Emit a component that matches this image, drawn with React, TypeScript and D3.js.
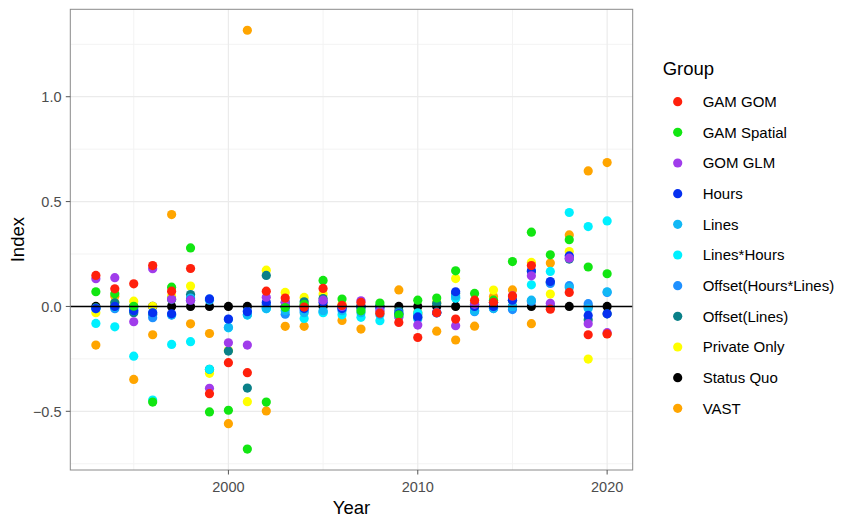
import React from "react";
import * as d3 from "d3";

const years = [1993,1994,1995,1996,1997,1998,1999,2000,2001,2002,2003,2004,2005,2006,2007,2008,2009,2010,2011,2012,2013,2014,2015,2016,2017,2018,2019,2020];

const groups = ["GAM GOM","GAM Spatial","GOM GLM","Hours","Lines","Lines*Hours","Offset(Hours*Lines)","Offset(Lines)","Private Only","Status Quo","VAST"];
const groupColors = ["#FF200C","#12E612","#A03CEB","#0630F0","#12B8F5","#00F0FF","#1E90FF","#0A8088","#FFFF00","#000000","#FFA500"];

const gamGom = [0.148,0.084,0.108,0.195,0.073,0.181,-0.416,-0.268,-0.316,0.073,0.04,-0.003,0.086,0.005,0.019,-0.032,-0.076,-0.148,-0.03,-0.06,0.03,0.02,0.05,0.195,-0.013,0.067,-0.135,-0.131];
const gamSpatial = [0.07,0.06,0.001,-0.456,0.092,0.279,-0.503,-0.495,-0.68,-0.456,-0.005,0.01,0.124,0.035,-0.021,0.016,-0.04,0.03,0.04,0.17,0.062,0.03,0.214,0.354,0.246,0.318,0.188,0.156];
const gomGlm = [0.132,0.137,-0.073,0.18,0.035,0.03,-0.39,-0.173,-0.184,0.044,0.02,0.0,0.03,0.0,0.027,-0.02,-0.05,-0.089,-0.03,-0.092,0.01,0.02,0.05,0.146,0.015,0.23,-0.082,-0.125];
const hours = [-0.01,0.0,-0.02,-0.03,-0.035,0.03,0.035,-0.06,-0.025,0.02,0.0,-0.01,0.02,-0.01,0.0,0.0,-0.035,-0.05,-0.03,0.07,0.0,0.0,0.03,0.17,0.119,0.241,-0.043,-0.035];
const lines = [-0.01,-0.005,-0.01,-0.03,-0.04,0.04,0.03,-0.1,-0.04,-0.01,-0.02,-0.03,-0.02,-0.02,-0.03,-0.04,-0.04,-0.06,-0.03,0.05,-0.02,-0.01,0.0,0.03,0.0,0.09,-0.01,0.07];
const linesHours = [-0.081,-0.097,-0.237,-0.446,-0.181,-0.168,-0.3,-0.102,-0.041,-0.011,0.0,-0.057,-0.03,-0.04,-0.052,-0.068,-0.05,-0.03,-0.03,0.04,-0.02,0.0,0.0,0.103,0.167,0.448,0.381,0.408];
const offsetHoursLines = [-0.01,-0.011,-0.02,-0.054,-0.041,0.035,0.036,-0.062,-0.022,0.01,-0.037,-0.02,-0.026,-0.01,-0.01,-0.01,-0.03,-0.04,-0.03,0.04,-0.025,-0.01,-0.015,0.024,0.11,0.099,0.013,0.067];
const offsetLines = [-0.006,0.018,-0.03,-0.038,0.033,0.057,-0.3,-0.213,-0.389,0.148,0.02,0.022,0.038,0.0,0.0,0.0,-0.02,-0.052,0.015,0.062,0.01,0.02,0.03,0.167,0.115,0.226,-0.063,-0.035];
const privateOnly = [-0.03,0.02,0.025,0.001,0.05,0.097,-0.319,-0.21,-0.454,0.173,0.067,0.043,0.059,0.01,0.0,0.0,-0.04,-0.035,0.02,0.133,0.02,0.078,0.03,0.21,0.059,0.262,-0.251,-0.13];
const statusQuo = [0,0,0,0,0,0,0,0,0,0,0,0,0,0,0,0,0,0,0,0,0,0,0,0,0,0,0,0];
const vast = [-0.184,0.049,-0.348,-0.135,0.438,-0.083,-0.129,-0.559,1.317,-0.498,-0.095,-0.095,0.006,-0.067,-0.108,-0.025,0.079,-0.029,-0.118,-0.16,-0.094,0.048,0.079,-0.082,0.207,0.341,0.646,0.686];

const seriesValues = [gamGom,gamSpatial,gomGlm,hours,lines,linesHours,offsetHoursLines,offsetLines,privateOnly,statusQuo,vast];

const xMajor = [2000, 2010, 2020];
const xMinor = [1995, 2005, 2015];
const yMajor = [-0.5, 0, 0.5, 1.0];
const yMinor = [-0.75, -0.25, 0.25, 0.75, 1.25];

const W = 843, H = 519;
const PL = 70.3, PR = 632.7, PT = 9.3, PB = 470;
const FONT = "'Liberation Sans', Arial, Helvetica, sans-serif";

export default function App() {
  const allVals = seriesValues.flat();
  const ymin = d3.min(allVals)!, ymax = d3.max(allVals)!;
  const yr = ymax - ymin;
  const x0 = d3.min(years)!, x1 = d3.max(years)!;
  const xr = x1 - x0;
  const x = d3.scaleLinear().domain([x0 - 0.05 * xr, x1 + 0.05 * xr]).range([PL, PR]);
  const y = d3.scaleLinear().domain([ymin - 0.05 * yr, ymax + 0.05 * yr]).range([PB, PT]);

  // drawn from the last group to the first, so GAM GOM ends up on top
  const points: { g: number; yr: number; v: number }[] = [];
  for (let g = seriesValues.length - 1; g >= 0; g--) {
    seriesValues[g].forEach((v, i) => points.push({ g, yr: years[i], v }));
  }

  return (
    <svg width={W} height={H} style={{ position: "absolute", left: 0, top: 0 }} fontFamily={FONT}>
      <rect x={0} y={0} width={W} height={H} fill="#fff" />
      {xMinor.map((t) => (
        <line key={"xm" + t} x1={x(t)} x2={x(t)} y1={PT} y2={PB} stroke="#F3F3F3" strokeWidth={1} />
      ))}
      {yMinor.map((t) => (
        <line key={"ym" + t} x1={PL} x2={PR} y1={y(t)} y2={y(t)} stroke="#F3F3F3" strokeWidth={1} />
      ))}
      {xMajor.map((t) => (
        <line key={"xM" + t} x1={x(t)} x2={x(t)} y1={PT} y2={PB} stroke="#EBEBEB" strokeWidth={1.2} />
      ))}
      {yMajor.map((t) => (
        <line key={"yM" + t} x1={PL} x2={PR} y1={y(t)} y2={y(t)} stroke="#EBEBEB" strokeWidth={1.2} />
      ))}
      {points.map((p, i) => (
        <circle key={i} cx={x(p.yr)} cy={y(p.v)} r={4.6} fill={groupColors[p.g]} />
      ))}
      <line x1={PL} x2={PR} y1={y(0)} y2={y(0)} stroke="#000" strokeWidth={1.6} />
      <rect x={PL} y={PT} width={PR - PL} height={PB - PT} fill="none" stroke="#8A8A8A" strokeWidth={1} />
      {xMajor.map((t) => (
        <g key={"xt" + t}>
          <line x1={x(t)} x2={x(t)} y1={PB} y2={PB + 4.5} stroke="#555" strokeWidth={1} />
          <text x={x(t)} y={492} textAnchor="middle" fontSize={14.5} fill="#4D4D4D">{t}</text>
        </g>
      ))}
      {yMajor.map((t) => (
        <g key={"yt" + t}>
          <line x1={PL - 4.5} x2={PL} y1={y(t)} y2={y(t)} stroke="#555" strokeWidth={1} />
          <text x={61.5} y={y(t)} dy="0.36em" textAnchor="end" fontSize={14.5} fill="#4D4D4D">{d3.format(".1f")(t)}</text>
        </g>
      ))}
      <text x={(PL + PR) / 2} y={514} textAnchor="middle" fontSize={18.5} fill="#000">Year</text>
      <text transform={`translate(24, ${(PT + PB) / 2}) rotate(-90)`} textAnchor="middle" fontSize={18.5} fill="#000">Index</text>
      <text x={662.7} y={75} fontSize={18.5} fill="#000">Group</text>
      {groups.map((g, i) => {
        const cy = 101.7 + i * 30.66;
        return (
          <g key={g}>
            <circle cx={677.7} cy={cy} r={4.6} fill={groupColors[i]} />
            <text x={702.7} y={cy} dy="0.36em" fontSize={15} fill="#000">{g}</text>
          </g>
        );
      })}
    </svg>
  );
}
